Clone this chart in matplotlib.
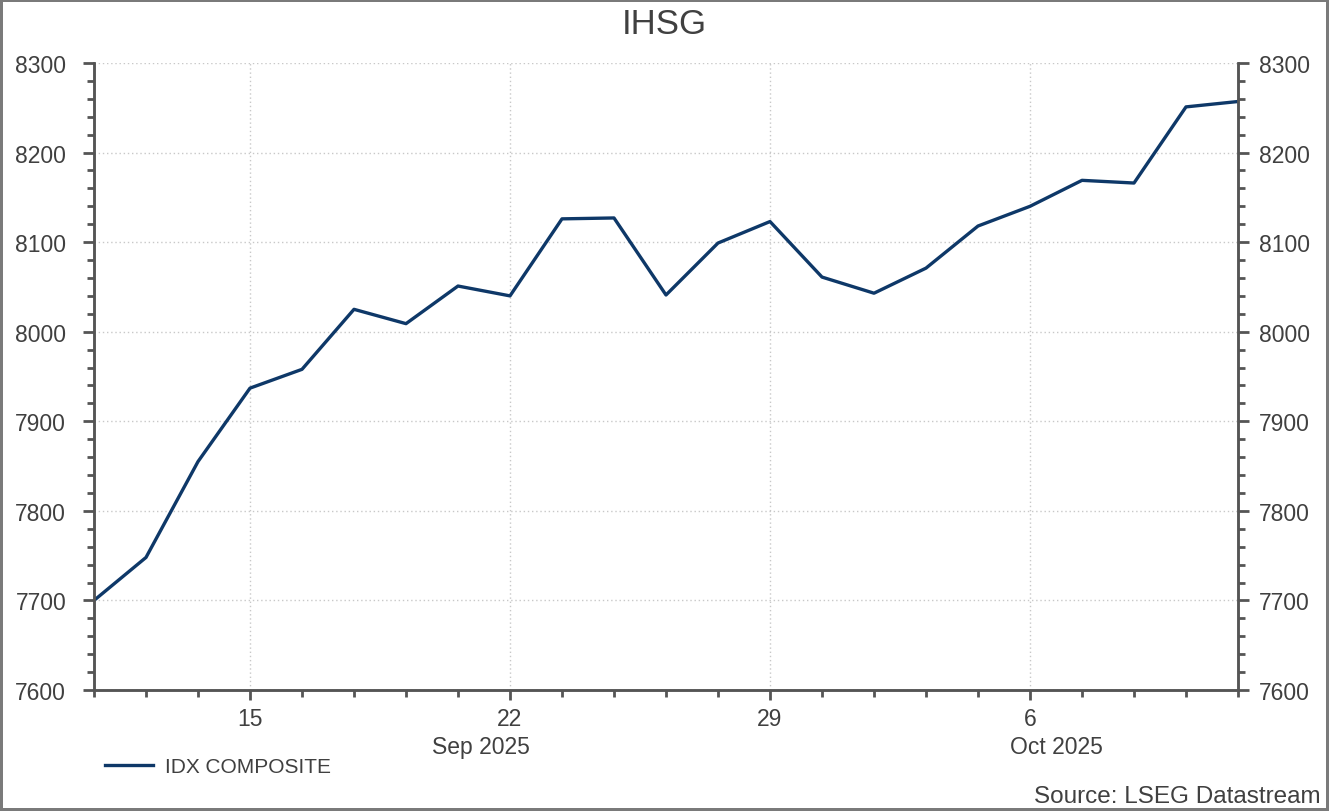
import numpy as np
import matplotlib.pyplot as plt
from matplotlib.ticker import MultipleLocator

# business days from 10 Sep to 10 Oct 2025
dates = ["2025-09-10", "2025-09-11", "2025-09-12", "2025-09-15", "2025-09-16",
         "2025-09-17", "2025-09-18", "2025-09-19", "2025-09-22", "2025-09-23",
         "2025-09-24", "2025-09-25", "2025-09-26", "2025-09-29", "2025-09-30",
         "2025-10-01", "2025-10-02", "2025-10-03", "2025-10-06", "2025-10-07",
         "2025-10-08", "2025-10-09", "2025-10-10"]
idx_values = [7700, 7748, 7855, 7937, 7958, 8025, 8009, 8051, 8040, 8126,
              8127, 8041, 8099, 8123, 8061, 8043, 8071, 8118, 8140, 8169,
              8166, 8251, 8257]
tick_days = ["15", "22", "29", "6"]
month_labels = ["Sep 2025", "Oct 2025"]

plt.rcParams["font.family"] = ["Liberation Sans", "DejaVu Sans"]
txt = "#404040"
navy = "#0e3868"
axc = "#555555"

x = np.arange(len(dates))
major_pos = [i for i, d in enumerate(dates) if d[-2:].lstrip("0") in tick_days]

fig = plt.figure(figsize=(13.29, 8.12), dpi=100)
fig.patch.set_edgecolor("#7a7a7a")
fig.patch.set_linewidth(3)
ax = fig.add_axes([94 / 1329, 1 - 691 / 812, (1238 - 94) / 1329, (691 - 64) / 812])

ax.plot(x, idx_values, color=navy, lw=2.4, label="IDX COMPOSITE")
ax.set_xlim(0, len(dates) - 1)
ax.set_ylim(7600, 8300)

ax2 = ax.twinx()
ax2.set_ylim(7600, 8300)

for a in (ax, ax2):
    a.spines["top"].set_visible(False)
    for s in ["left", "bottom", "right"]:
        a.spines[s].set_color(axc)
        a.spines[s].set_linewidth(1.8)
    a.yaxis.set_major_locator(MultipleLocator(100))
    a.yaxis.set_minor_locator(MultipleLocator(20))
    a.tick_params(axis="y", which="both", direction="out", colors=axc, labelcolor=txt,
                  labelsize=16.5, width=2)
    a.tick_params(axis="y", which="major", length=8)
    a.tick_params(axis="y", which="minor", length=5)
ax.tick_params(axis="y", which="both", pad=12)
ax2.tick_params(axis="y", which="both", pad=7)

ax.set_xticks(x, minor=True)
ax.set_xticks(major_pos)
ax.set_xticklabels(tick_days)
ax.tick_params(axis="x", which="both", direction="out", colors=axc, labelcolor=txt,
               labelsize=16.5, width=2, pad=5)
ax.tick_params(axis="x", which="major", length=7)
ax.tick_params(axis="x", which="minor", length=5)

ax.grid(True, which="major", color="#c8c8c8", linestyle=(0, (1, 2)), lw=1)

for lab, xpos in zip(month_labels, [7.45, 18.5]):
    ax.text(xpos, -0.09, lab, transform=ax.get_xaxis_transform(), ha="center", va="center",
            fontsize=16.5, color=txt)

fig.text(0.5, 1 - 25 / 812, "IHSG", ha="center", va="center", fontsize=25, color=txt)
fig.text(1 - 8 / 1329, 1 - 797 / 812, "Source: LSEG Datastream", ha="right", va="center",
         fontsize=17.5, color=txt)

leg = ax.legend(loc="center left", bbox_to_anchor=(105 / 1329, 1 - 768 / 812),
                bbox_transform=fig.transFigure, frameon=False, fontsize=15,
                handlelength=2.3, handletextpad=0.6, borderaxespad=0, borderpad=0)
for t in leg.get_texts():
    t.set_color(txt)

fig.savefig("out.png", dpi=100, edgecolor=fig.get_edgecolor())
